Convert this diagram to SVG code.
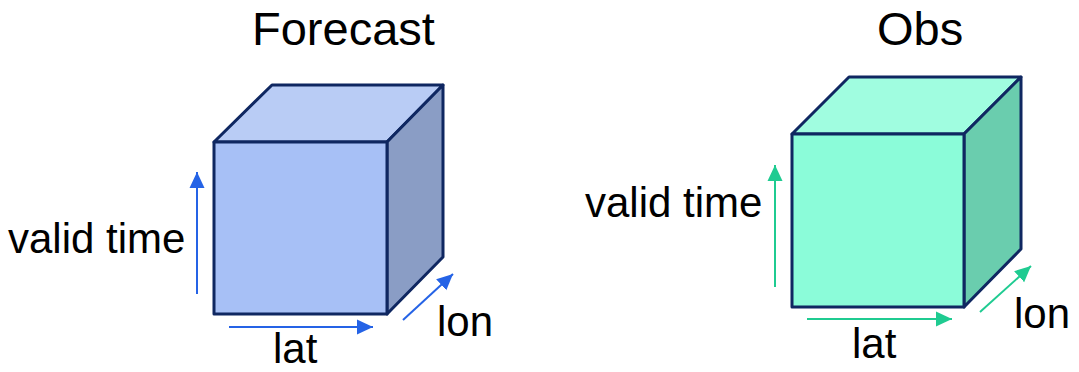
<svg xmlns="http://www.w3.org/2000/svg" width="1079" height="372" viewBox="0 0 1079 372">
<style>
text{font-family:"Liberation Sans",Arial,sans-serif;font-size:42px;fill:#000}
text.title{font-size:47px}
.edge{stroke:#0F2761;stroke-width:3;stroke-linejoin:round}
.fc-front{fill:#A7C0F6}.fc-top{fill:#B9CCF5}.fc-side{fill:#8A9DC5}
.ob-front{fill:#8BFCD9}.ob-top{fill:#A0FDE0}.ob-side{fill:#6ACDAE}
.ab{stroke:#2563E6;stroke-width:2;fill:none}
.ag{stroke:#1FCB91;stroke-width:2;fill:none}
</style>
<defs>
<marker id="hb" markerUnits="userSpaceOnUse" markerWidth="17" markerHeight="16" refX="16" refY="7.5" orient="auto" viewBox="0 0 17 15"><path d="M0,0 L16,7.5 L0,15 z" fill="#2563E6"/></marker>
<marker id="hg" markerUnits="userSpaceOnUse" markerWidth="17" markerHeight="16" refX="16" refY="7.5" orient="auto" viewBox="0 0 17 15"><path d="M0,0 L16,7.5 L0,15 z" fill="#1FCB91"/></marker>
</defs>
<g id="forecast">
<text class="title" x="252" y="45">Forecast</text>
<polygon class="fc-top edge" points="214,142 272,85 443,85 387,142"/>
<polygon class="fc-side edge" points="387,142 443,85 443,257 387,314"/>
<rect class="fc-front edge" x="214" y="142" width="173" height="172"/>
<text x="8" y="253">valid time</text>
<text x="273" y="363">lat</text>
<text x="437" y="336">lon</text>
</g>
<g id="obs">
<text class="title" x="877" y="45">Obs</text>
<polygon class="ob-top edge" points="792,134 849,77 1021,77 964,134"/>
<polygon class="ob-side edge" points="964,134 1021,77 1021,249 964,307"/>
<rect class="ob-front edge" x="792" y="134" width="172" height="173"/>
<text x="585" y="217">valid time</text>
<text x="852" y="358">lat</text>
<text x="1014" y="328">lon</text>
</g>
<g id="connectors">
<line class="ab" x1="197" y1="294" x2="197" y2="172" marker-end="url(#hb)"/>
<line class="ab" x1="229" y1="327" x2="373" y2="327" marker-end="url(#hb)"/>
<line class="ab" x1="403" y1="320" x2="453" y2="274" marker-end="url(#hb)"/>
<line class="ag" x1="775" y1="287" x2="775" y2="165" marker-end="url(#hg)"/>
<line class="ag" x1="807" y1="319" x2="952" y2="319" marker-end="url(#hg)"/>
<line class="ag" x1="980" y1="312" x2="1031" y2="266" marker-end="url(#hg)"/>
</g>
</svg>
